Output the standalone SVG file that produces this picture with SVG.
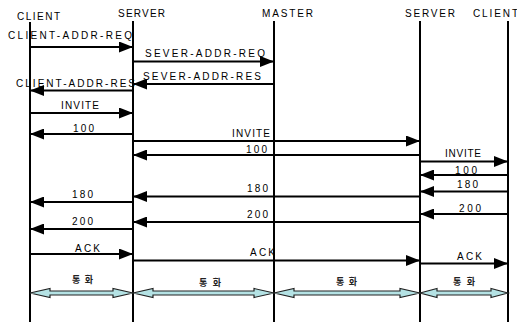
<svg xmlns="http://www.w3.org/2000/svg" width="517" height="322" viewBox="0 0 517 322">
<style>
text{font-family:"Liberation Sans",Arial,sans-serif;font-size:10px;fill:#000}
.life{stroke:#000;stroke-width:2}
.msg{stroke:#000;stroke-width:2;fill:none;marker-end:url(#ah)}
.talk{fill:#b4e2e4;stroke:#222;stroke-width:1.2}
.kr{font-family:"Liberation Sans","Noto Sans CJK KR",sans-serif;font-size:9px;font-weight:bold;fill:#222}
</style>
<defs>
<marker id="ah" markerUnits="userSpaceOnUse" markerWidth="14" markerHeight="11" refX="14" refY="5.5" orient="auto">
<path d="M0,0 L14,5.5 L0,11 Z" fill="#000"/>
</marker>
</defs>
<rect width="517" height="322" fill="#fff"/>
<g id="client1"><line class="life" x1="30" y1="22" x2="30" y2="322"/><text x="17" y="20" textLength="43" lengthAdjust="spacing">CLIENT</text></g>
<g id="server1"><line class="life" x1="133" y1="21" x2="133" y2="322"/><text x="118" y="17" textLength="47" lengthAdjust="spacing">SERVER</text></g>
<g id="master"><line class="life" x1="274" y1="21" x2="274" y2="322"/><text x="262" y="17" textLength="51" lengthAdjust="spacing">MASTER</text></g>
<g id="server2"><line class="life" x1="420" y1="21" x2="420" y2="322"/><text x="405" y="17" textLength="50" lengthAdjust="spacing">SERVER</text></g>
<g id="client2"><line class="life" x1="508" y1="21" x2="508" y2="322"/><text x="473" y="17" textLength="45" lengthAdjust="spacing">CLIENT</text></g>
<g id="connectors">
<line class="msg" x1="30" y1="47" x2="133" y2="47"/>
<line class="msg" x1="133" y1="61.5" x2="274" y2="61.5"/>
<line class="msg" x1="274" y1="84" x2="133" y2="84"/>
<line class="msg" x1="133" y1="90.5" x2="30" y2="90.5"/>
<line class="msg" x1="30" y1="113" x2="133" y2="113"/>
<line class="msg" x1="133" y1="134" x2="30" y2="134"/>
<line class="msg" x1="133" y1="141" x2="420" y2="141"/>
<line class="msg" x1="420" y1="155" x2="133" y2="155"/>
<line class="msg" x1="420" y1="161.5" x2="508" y2="161.5"/>
<line class="msg" x1="508" y1="175" x2="420" y2="175"/>
<line class="msg" x1="508" y1="191.5" x2="420" y2="191.5"/>
<line class="msg" x1="420" y1="196.5" x2="133" y2="196.5"/>
<line class="msg" x1="133" y1="202" x2="30" y2="202"/>
<line class="msg" x1="508" y1="214" x2="420" y2="214"/>
<line class="msg" x1="420" y1="222" x2="133" y2="222"/>
<line class="msg" x1="133" y1="229" x2="30" y2="229"/>
<line class="msg" x1="30" y1="254" x2="133" y2="254"/>
<line class="msg" x1="133" y1="260.5" x2="420" y2="260.5"/>
<line class="msg" x1="420" y1="263.5" x2="508" y2="263.5"/>
<polygon class="talk" points="30,293 50,288.5 50,291 113,291 113,288.5 133,293 113,297.5 113,295 50,295 50,297.5"/>
<polygon class="talk" points="133,293 153,288.5 153,291 254,291 254,288.5 274,293 254,297.5 254,295 153,295 153,297.5"/>
<polygon class="talk" points="274,293 294,288.5 294,291 400,291 400,288.5 420,293 400,297.5 400,295 294,295 294,297.5"/>
<polygon class="talk" points="420,293 437,288.5 437,291 491,291 491,288.5 508,293 491,297.5 491,295 437,295 437,297.5"/>
<text x="8" y="39" textLength="124" lengthAdjust="spacing">CLIENT-ADDR-REQ</text>
<text x="145" y="57" textLength="120" lengthAdjust="spacing">SEVER-ADDR-REQ</text>
<text x="143" y="80" textLength="118" lengthAdjust="spacing">SEVER-ADDR-RES</text>
<text x="16" y="87" textLength="119" lengthAdjust="spacing">CLIENT-ADDR-RES</text>
<text x="61" y="109" textLength="38" lengthAdjust="spacing">INVITE</text>
<text x="73" y="132" textLength="21" lengthAdjust="spacing">100</text>
<text x="232" y="137" textLength="38" lengthAdjust="spacing">INVITE</text>
<text x="246" y="153" textLength="21" lengthAdjust="spacing">100</text>
<text x="445" y="157" textLength="36" lengthAdjust="spacing">INVITE</text>
<text x="455" y="174" textLength="22" lengthAdjust="spacing">100</text>
<text x="457" y="188" textLength="21" lengthAdjust="spacing">180</text>
<text x="247" y="192" textLength="21" lengthAdjust="spacing">180</text>
<text x="72" y="198" textLength="21" lengthAdjust="spacing">180</text>
<text x="459" y="212" textLength="22" lengthAdjust="spacing">200</text>
<text x="247" y="218" textLength="21" lengthAdjust="spacing">200</text>
<text x="72" y="225" textLength="21" lengthAdjust="spacing">200</text>
<text x="75" y="252" textLength="25" lengthAdjust="spacing">ACK</text>
<text x="250" y="256" textLength="25" lengthAdjust="spacing">ACK</text>
<text x="457" y="260" textLength="25" lengthAdjust="spacing">ACK</text>
<text class="kr" x="72" y="283" textLength="21" lengthAdjust="spacing">통화</text>
<text class="kr" x="199" y="286" textLength="22" lengthAdjust="spacing">통화</text>
<text class="kr" x="336" y="285" textLength="21" lengthAdjust="spacing">통화</text>
<text class="kr" x="453" y="285" textLength="22" lengthAdjust="spacing">통화</text>
</g>
</svg>
